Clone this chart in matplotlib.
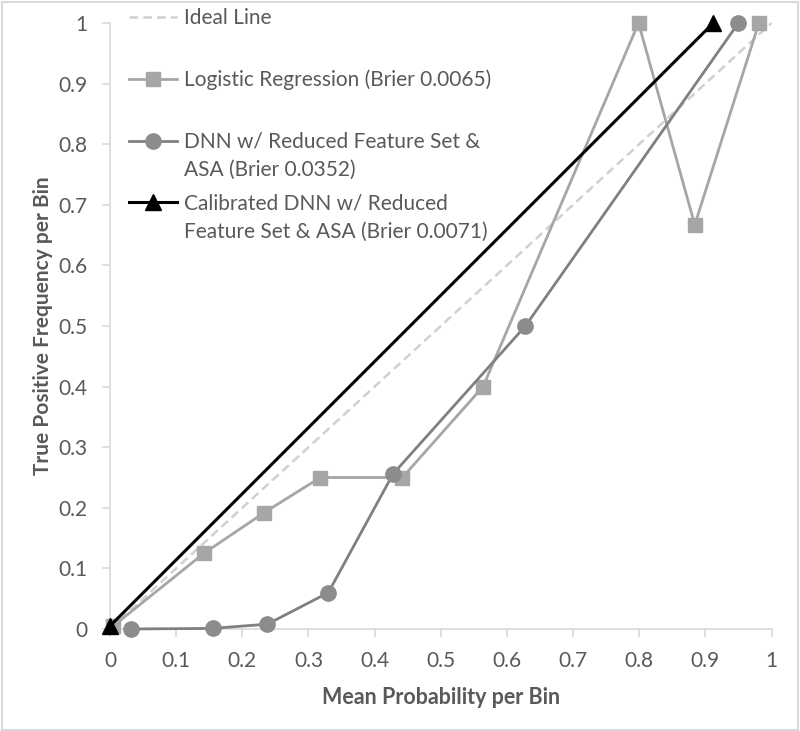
import matplotlib
matplotlib.use("Agg")
import matplotlib.pyplot as plt
from matplotlib.patches import Rectangle

# ---- data ----
ideal_x = [0, 1]
ideal_y = [0, 1]

lr_x = [0.005, 0.142, 0.233, 0.318, 0.442, 0.564, 0.799, 0.884, 0.981]
lr_y = [0.005, 0.125, 0.192, 0.250, 0.250, 0.400, 1.000, 0.667, 1.000]

dnn_x = [0.031, 0.155, 0.238, 0.330, 0.428, 0.628, 0.950]
dnn_y = [0.000, 0.001, 0.008, 0.060, 0.256, 0.500, 1.000]

cal_x = [0.000, 0.912]
cal_y = [0.005, 1.000]

labels = [
    "Ideal Line",
    "Logistic Regression (Brier 0.0065)",
    "DNN w/ Reduced Feature Set &\nASA (Brier 0.0352)",
    "Calibrated DNN w/ Reduced\nFeature Set & ASA (Brier 0.0071)",
]
xticks = [0, 0.1, 0.2, 0.3, 0.4, 0.5, 0.6, 0.7, 0.8, 0.9, 1]
yticks = [0, 0.1, 0.2, 0.3, 0.4, 0.5, 0.6, 0.7, 0.8, 0.9, 1]
tick_labels = ["0", "0.1", "0.2", "0.3", "0.4", "0.5", "0.6", "0.7", "0.8", "0.9", "1"]

plt.rcParams['font.family'] = ['Lato', 'DejaVu Sans']
TXT = '#595959'

fig = plt.figure(figsize=(8.0, 7.31), dpi=100)
ax = fig.add_axes([110/800, 1 - 629/731, (771.5 - 110)/800, (629 - 23)/731])

l0, = ax.plot(ideal_x, ideal_y, color='#D0D0D0', lw=1.8, ls=(0, (3.5, 2)), zorder=2)
l1, = ax.plot(lr_x, lr_y, color='#A6A6A6', lw=2, marker='s', ms=10, mfc='#A6A6A6',
              mec='#A6A6A6', zorder=3)
l2, = ax.plot(dnn_x, dnn_y, color='#808080', lw=2, marker='o', ms=11, mfc='#8C8C8C',
              mec='#8C8C8C', zorder=4)
l3, = ax.plot(cal_x, cal_y, color='black', lw=2.2, marker='^', ms=12, mfc='black',
              mec='black', zorder=5, clip_on=False)
for l in (l0, l1, l2):
    l.set_clip_on(False)

ax.set_xlim(0, 1)
ax.set_ylim(0, 1)
ax.set_xticks(xticks)
ax.set_xticklabels(tick_labels)
ax.set_yticks(yticks)
ax.set_yticklabels(tick_labels)

for s in ['top', 'right']:
    ax.spines[s].set_visible(False)
for s in ['left', 'bottom']:
    ax.spines[s].set_color('#D9D9D9')
    ax.spines[s].set_linewidth(1.2)
ax.tick_params(axis='both', colors='#D9D9D9', labelcolor=TXT, labelsize=15,
               length=6, width=1.2, direction='out')
ax.tick_params(axis='x', pad=10)
ax.tick_params(axis='y', pad=10)

ax.set_xlabel("Mean Probability per Bin", fontsize=15.5, fontweight='bold', color=TXT, labelpad=11)
ax.set_ylabel("True Positive Frequency per Bin", fontsize=15, fontweight='bold', color=TXT, labelpad=4)

# legend: first lines in the legend, continuation lines anchored below them
first_lines = [lab.split("\n")[0] for lab in labels]
leg = fig.legend([l0, l1, l2, l3], first_lines, loc='upper left',
                 bbox_to_anchor=(129/800, 1 - 8/731), frameon=False,
                 fontsize=15, labelcolor=TXT, handlelength=2.3, handletextpad=0.35,
                 labelspacing=2.0, borderaxespad=0, borderpad=0)
leg.set_zorder(5)
for lab, t in zip(labels, leg.get_texts()):
    parts = lab.split("\n")
    if len(parts) > 1:
        ann = plt.Annotation("\n".join(parts[1:]), xy=(0, 0), xycoords=t,
                             xytext=(0, -28), textcoords='offset pixels',
                             fontsize=15, color=TXT, ha='left', va='bottom')
        ann.set_zorder(10)
        fig.add_artist(ann)

fig.patches.append(Rectangle((0.002, 0.002), 0.995, 0.995, transform=fig.transFigure,
                             fill=False, edgecolor='#D9D9D9', lw=1.5))

fig.savefig("out.png", dpi=100)
